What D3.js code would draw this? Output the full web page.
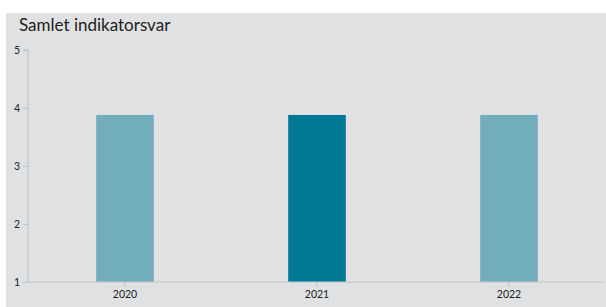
<!DOCTYPE html>
<html><head><meta charset="utf-8">
<script src="https://cdn.jsdelivr.net/npm/d3@7"></script>
<style>
html,body{margin:0;padding:0;background:#fff;}
svg{display:block;font-family:Lato,"Open Sans",sans-serif;}
</style></head>
<body>
<svg id="c" width="606" height="307"></svg>
<script>
const categories = ["2020", "2021", "2022"];
const values = [3.88, 3.88, 3.88];
const highlighted = ["2021"];
const yTicks = [1, 2, 3, 4, 5];
const title = "Samlet indikatorsvar";

(function () {
const svg = d3.select("#c");
svg.append("rect").attr("x", 6).attr("y", 13).attr("width", 600).attr("height", 294).attr("fill", "#e0e1e3");
svg.append("text").attr("x", 19).attr("y", 31).attr("font-size", 17).attr("fill", "#222").text(title);

const mL = 28, mR = 604, mT = 50, mB = 282;
const x = d3.scaleBand().domain(categories).range([mL + 1, mR + 1]).paddingInner(0.7).paddingOuter(0.35);
const y = d3.scaleLinear().domain([1, 5]).range([mB, mT]);

svg.selectAll(".bar").data(categories).enter().append("rect")
  .attr("x", d => x(d)).attr("width", x.bandwidth())
  .attr("y", (d, i) => y(values[i])).attr("height", (d, i) => y(1) - y(values[i]))
  .attr("fill", d => highlighted.includes(d) ? "#007896" : "#72adbe");

const ya = svg.append("g").attr("transform", `translate(${mL},0)`)
  .call(d3.axisLeft(y).tickValues(yTicks).tickFormat(d3.format("d")).tickSize(5).tickPadding(3));
const xa = svg.append("g").attr("transform", `translate(0,${mB})`)
  .call(d3.axisBottom(x).tickSize(5).tickPadding(4).tickSizeOuter(0));
[ya, xa].forEach(g => {
  g.selectAll("path,line").attr("stroke", "#c2c5c9").attr("stroke-width", 1.2);
  g.selectAll("text").attr("fill", "#222").attr("font-size", 10.5).attr("font-family", "Lato, sans-serif");
});
ya.select(".domain").attr("d", `M-5,${mT}H0V${mB}`);
xa.select(".domain").attr("d", `M${mL},0H${mR}`);
})();
</script>
</body></html>
